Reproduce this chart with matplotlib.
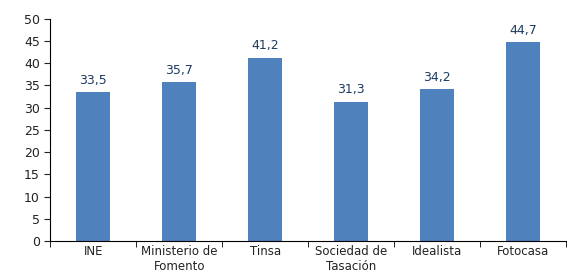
import matplotlib.pyplot as plt
import numpy as np

categories = ['INE', 'Ministerio de\nFomento', 'Tinsa', 'Sociedad de\nTasación', 'Idealista', 'Fotocasa']
values = [33.5, 35.7, 41.2, 31.3, 34.2, 44.7]

fig = plt.figure(figsize=(5.77, 2.78), dpi=100)
ax = fig.add_axes([0.087, 0.133, 0.894, 0.8])

x = np.arange(len(categories))
ax.bar(x, values, width=0.4, color='#4F81BD')

for xi, v in zip(x, values):
    ax.text(xi, v + 1.2, f'{v:.1f}'.replace('.', ','), ha='center', va='bottom',
            fontsize=9, color='#1F3A5F')

ax.set_xlim(-0.5, len(categories) - 0.5)
ax.set_ylim(0, 50)
ax.set_yticks(range(0, 51, 5))
ax.set_xticks(x)
ax.set_xticklabels(categories, fontsize=8.5, color='#222222')
ax.set_xticks(np.arange(-0.5, len(categories)), minor=True)
ax.tick_params(axis='x', which='major', length=0, pad=3)
ax.tick_params(axis='x', which='minor', length=4, direction='out')
ax.tick_params(axis='y', labelsize=9, length=4, colors='#222222')

for s in ['top', 'right']:
    ax.spines[s].set_visible(False)

fig.savefig('out.png', dpi=100)
